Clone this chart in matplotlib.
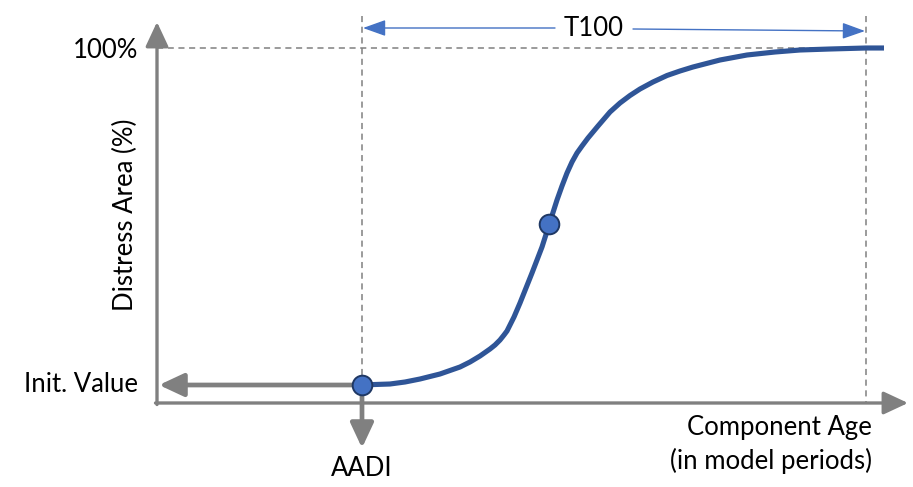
import matplotlib
matplotlib.use("Agg")
import matplotlib.pyplot as plt

plt.rcParams['font.family'] = ['Lato', 'DejaVu Sans']

# Diagram coordinates (y grows downward)
curve_x = [362, 375, 390, 405, 420, 440, 460, 470, 480, 490, 495, 500, 504, 507, 514, 520,
           526, 532, 537, 542, 549, 557, 562, 567, 572, 577, 582, 588, 598, 610,
           620, 630, 640, 653, 667, 680, 693, 720, 747, 775, 800, 830, 866, 884]
curve_y = [385, 384.5, 384, 382, 379, 374, 367, 362, 356, 349, 345, 340, 335, 331, 317, 303,
           288, 273, 260, 247, 225, 200, 186, 173, 162, 153, 146, 138, 126, 112,
           103, 95.5, 89, 82, 75.5, 71, 67, 60, 55, 52, 50, 49, 48, 48]
marker_x = [362, 549]
marker_y = [385, 224]

origin = (157, 403)
aadi_x = 362
t100_x = 866
full_y = 48
init_y = 385

labels = {"full": "100%", "init": "Init. Value", "ylabel": "Distress Area (%)",
          "aadi": "AADI", "xlabel1": "Component Age", "xlabel2": "(in model periods)",
          "t100": "T100"}

fig = plt.figure(figsize=(9.13, 4.87), dpi=100)
ax = fig.add_axes([0, 0, 1, 1])
ax.set_xlim(0, 913)
ax.set_ylim(487, 0)
ax.axis('off')

gray = '#808080'
blue = '#4472C4'
dark_blue = '#2F5597'
fs = 18.5

# dashed guides
ax.plot([aadi_x, aadi_x], [16, init_y], color=gray, lw=1.1, ls=(0, (4, 3)), zorder=1)
ax.plot([t100_x, t100_x], [16, origin[1]], color=gray, lw=1.1, ls=(0, (4, 3)), zorder=1)
ax.plot([origin[0], 884], [full_y, full_y], color=gray, lw=1.1, ls=(0, (4, 3)), zorder=1)

# axes arrows
ap = dict(arrowstyle='-|>,head_length=0.75,head_width=0.35', color=gray, lw=2.4,
          shrinkA=0, shrinkB=0, mutation_scale=20)
ax.annotate('', xy=(origin[0], 22), xytext=(origin[0], origin[1] + 1.5), arrowprops=ap)
ax.annotate('', xy=(908, origin[1]), xytext=(origin[0] - 1.5, origin[1]), arrowprops=ap)
# init value & AADI arrows
ap2 = dict(arrowstyle='-|>,head_length=0.75,head_width=0.35', color=gray, lw=3.4,
           shrinkA=0, shrinkB=0, mutation_scale=20)
ax.annotate('', xy=(159, init_y), xytext=(aadi_x, init_y), arrowprops=ap2)
ax.annotate('', xy=(aadi_x, 448), xytext=(aadi_x, init_y), arrowprops=ap2)

# T100 arrows
ap3 = dict(arrowstyle='-|>,head_length=0.7,head_width=0.25', color=blue, lw=1.0,
           shrinkA=0, shrinkB=0, mutation_scale=20)
ax.annotate('', xy=(aadi_x + 1, 28), xytext=(555, 28), arrowprops=ap3)
ax.annotate('', xy=(t100_x - 1, 31), xytext=(633, 29), arrowprops=ap3)
ax.text(594, 29, labels["t100"], ha='center', va='center', fontsize=fs, color='black')

# curve
ax.plot(curve_x, curve_y, color=dark_blue, lw=3.7, solid_capstyle='butt',
        solid_joinstyle='round', zorder=3)
ax.scatter(marker_x, marker_y, s=200, color=blue, edgecolor='#1F3864', linewidth=1.4, zorder=4)

# labels
ax.text(138, 50, labels["full"], ha='right', va='center', fontsize=fs)
ax.text(138, 384, labels["init"], ha='right', va='center', fontsize=fs)
ax.text(125, 215, labels["ylabel"], ha='center', va='center', rotation=90, fontsize=fs)
ax.text(aadi_x, 468, labels["aadi"], ha='center', va='center', fontsize=fs)
ax.text(872, 427, labels["xlabel1"], ha='right', va='center', fontsize=fs)
ax.text(872, 461, labels["xlabel2"], ha='right', va='center', fontsize=fs)

fig.savefig('out.png', dpi=100)
